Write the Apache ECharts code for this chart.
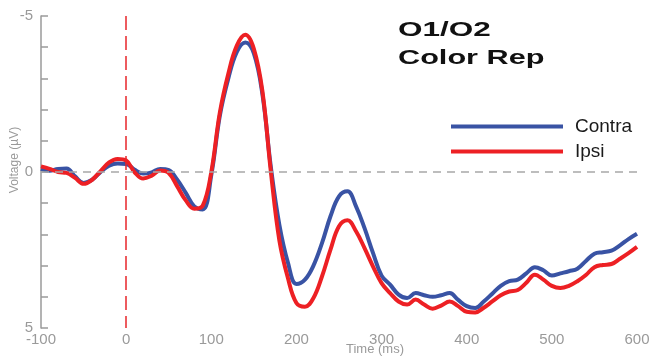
<!DOCTYPE html>
<html>
<head>
<meta charset="utf-8">
<script src="https://cdn.jsdelivr.net/npm/echarts@6/dist/echarts.min.js"></script>
<style>
  html, body { margin: 0; padding: 0; background: #fff; }
  #chart { width: 650px; height: 356px; }
</style>
</head>
<body>
<div id="chart"></div>
<script>
// Time points (ms)
const times = [-100,-90,-80,-70,-60,-50,-40,-30,-20,-10,
  0,10,20,30,40,50,60,70,80,90,
  100,110,120,130,140,150,160,170,180,190,
  200,210,220,230,240,250,260,270,280,290,
  300,310,320,330,340,350,360,370,380,390,
  400,410,420,430,440,450,460,470,480,490,
  500,510,520,530,540,550,560,570,580,590,600];

// Contra (blue), voltage in µV
const contra = [-0.10,-0.04,-0.10,-0.11,0.14,0.35,0.25,0.00,-0.20,-0.27,
  -0.26,-0.07,0.05,0.01,-0.10,-0.06,0.25,0.67,1.10,1.20,
  0.10,-1.80,-3.00,-3.85,-4.15,-3.80,-2.50,-0.15,1.70,2.90,
  3.59,3.45,3.00,2.28,1.42,0.78,0.62,1.10,1.80,2.60,
  3.32,3.61,3.93,4.04,3.88,3.95,4.00,3.95,3.88,4.10,
  4.30,4.36,4.15,3.90,3.65,3.50,3.45,3.25,3.05,3.15,
  3.32,3.25,3.18,3.10,2.85,2.62,2.57,2.52,2.35,2.15,1.98];

// Ipsi (red), voltage in µV
const ipsi = [-0.18,-0.10,0.00,0.03,0.19,0.38,0.25,-0.03,-0.31,-0.42,
  -0.37,0.01,0.21,0.12,-0.05,0.03,0.46,0.91,1.18,1.08,
  0.00,-1.90,-3.15,-4.05,-4.40,-3.95,-2.60,0.00,2.20,3.40,
  4.20,4.32,4.04,3.35,2.49,1.74,1.55,1.90,2.44,3.03,
  3.56,3.88,4.15,4.25,4.09,4.25,4.38,4.28,4.15,4.30,
  4.48,4.50,4.35,4.15,3.95,3.83,3.78,3.55,3.29,3.45,
  3.65,3.72,3.65,3.50,3.30,3.05,2.98,2.95,2.78,2.60,2.40];

const yLabelValues = [-5, 0, 5];
const titleLines = ['O1/O2', 'Color Rep'];
const seriesNames = ['Contra', 'Ipsi'];
const axisNames = { x: 'Time (ms)', y: 'Voltage (µV)' };

const chart = echarts.init(document.getElementById('chart'), null, { renderer: 'canvas' });

const pair = (arr) => times.map((t, i) => [t, arr[i]]);

const option = {
  animation: false,
  backgroundColor: '#ffffff',
  grid: { left: 41, right: 13, top: 16, bottom: 28, containLabel: false, outerBoundsMode: 'none' },
  xAxis: {
    type: 'value',
    min: -100, max: 600, interval: 100,
    axisLine: { show: false, onZero: false },
    axisTick: { show: false },
    splitLine: { show: false },
    axisLabel: { color: '#9a9a9a', fontSize: 15, margin: 4, fontFamily: 'Liberation Sans' }
  },
  yAxis: {
    type: 'value',
    inverse: true,
    min: -5, max: 5, interval: 1,
    axisLine: { show: true, onZero: false, lineStyle: { color: '#9a9a9a', width: 1.5 } },
    axisTick: { show: true, inside: true, length: 7, lineStyle: { color: '#9a9a9a', width: 1.5 } },
    splitLine: { show: false },
    axisLabel: {
      color: '#9a9a9a', fontSize: 15, margin: 8, fontFamily: 'Liberation Sans',
      formatter: (v) => yLabelValues.includes(v) ? String(v) : ''
    }
  },
  legend: {
    data: seriesNames,
    orient: 'vertical',
    left: 446,
    top: 112,
    itemWidth: 112,
    itemHeight: 4,
    itemGap: 6,
    icon: 'rect',
    textStyle: { color: '#1a1a1a', fontSize: 19, lineHeight: 19, fontFamily: 'Liberation Sans', padding: [0, 0, 0, 7] }
  },
  graphic: [
    { type: 'text', x: 398, y: 30, scaleX: 1.5, z: 100,
      style: { text: titleLines[0], font: 'bold 21px "Liberation Sans"', fill: '#111', verticalAlign: 'middle', align: 'left' } },
    { type: 'text', x: 398, y: 58, scaleX: 1.46, z: 100,
      style: { text: titleLines[1], font: 'bold 21px "Liberation Sans"', fill: '#111', verticalAlign: 'middle', align: 'left' } },
    { type: 'text', x: 15, y: 160, rotation: Math.PI / 2, z: 100,
      style: { text: axisNames.y, font: '12px "Liberation Sans"', fill: '#9a9a9a', verticalAlign: 'middle', align: 'center' } },
    { type: 'text', x: 375, y: 349, z: 100,
      style: { text: axisNames.x, font: '13px "Liberation Sans"', fill: '#9a9a9a', verticalAlign: 'middle', align: 'center' } }
  ],
  series: [
    {
      type: 'line', name: '_ref', data: [], z: 1, silent: true,
      markLine: {
        silent: true, symbol: 'none', label: { show: false },
        data: [
          { yAxis: 0, lineStyle: { color: '#a8a8a8', width: 1.5, type: [8, 6] } },
          { xAxis: 0, lineStyle: { color: '#e8262b', width: 1.5, type: [14, 6] } }
        ]
      }
    },
    {
      type: 'line', name: seriesNames[0], data: pair(contra), smooth: 0.4,
      showSymbol: false, z: 3,
      lineStyle: { color: '#3953a4', width: 4 },
      itemStyle: { color: '#3953a4' }
    },
    {
      type: 'line', name: seriesNames[1], data: pair(ipsi), smooth: 0.4,
      showSymbol: false, z: 4,
      lineStyle: { color: '#ed2024', width: 4 },
      itemStyle: { color: '#ed2024' }
    }
  ]
};
chart.setOption(option);
</script>
</body>
</html>
